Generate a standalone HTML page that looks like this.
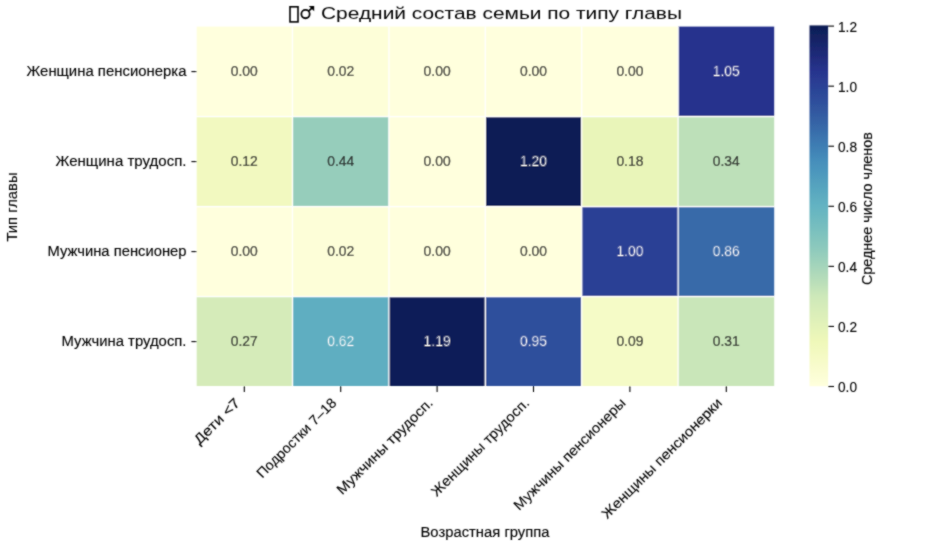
<!DOCTYPE html><html><head><meta charset="utf-8"><style>html,body{margin:0;padding:0;background:#fff;width:941px;height:552px;overflow:hidden}svg{display:block}text{font-family:"Liberation Sans",sans-serif;stroke-width:0.12px}</style></head><body>
<svg width="941" height="552" viewBox="0 0 941 552">
<defs><filter id="bl" x="0" y="0" width="941" height="552" filterUnits="userSpaceOnUse"><feConvolveMatrix order="3" kernelMatrix="1 2 1 2 12 2 1 2 1" edgeMode="none"/></filter><linearGradient id="cb" x1="0" y1="1" x2="0" y2="0"><stop offset="0.0000" stop-color="#ffffdd"/><stop offset="0.0312" stop-color="#fbfdd4"/><stop offset="0.0625" stop-color="#f7fbca"/><stop offset="0.0938" stop-color="#f3f9c1"/><stop offset="0.1250" stop-color="#eff8b9"/><stop offset="0.1562" stop-color="#e6f4b9"/><stop offset="0.1875" stop-color="#def0b9"/><stop offset="0.2188" stop-color="#d6ecb9"/><stop offset="0.2500" stop-color="#cde8b9"/><stop offset="0.2812" stop-color="#bde0b9"/><stop offset="0.3125" stop-color="#aed9ba"/><stop offset="0.3438" stop-color="#9fd2bb"/><stop offset="0.3750" stop-color="#90cbbc"/><stop offset="0.4062" stop-color="#84c5bd"/><stop offset="0.4375" stop-color="#78bfbf"/><stop offset="0.4688" stop-color="#6db9c0"/><stop offset="0.5000" stop-color="#63b3c2"/><stop offset="0.5312" stop-color="#5baac0"/><stop offset="0.5625" stop-color="#54a1be"/><stop offset="0.5938" stop-color="#4c97bd"/><stop offset="0.6250" stop-color="#458ebb"/><stop offset="0.6562" stop-color="#4081b5"/><stop offset="0.6875" stop-color="#3b75af"/><stop offset="0.7188" stop-color="#3768a8"/><stop offset="0.7500" stop-color="#335ca2"/><stop offset="0.7812" stop-color="#2f519d"/><stop offset="0.8125" stop-color="#2c4798"/><stop offset="0.8438" stop-color="#2a3d93"/><stop offset="0.8750" stop-color="#27338d"/><stop offset="0.9062" stop-color="#212d7e"/><stop offset="0.9375" stop-color="#1a2770"/><stop offset="0.9688" stop-color="#132261"/><stop offset="1.0000" stop-color="#0d1d55"/></linearGradient></defs><g filter="url(#bl)">
<rect x="196.70" y="26.60" width="95.80" height="90.00" fill="#ffffdd"/>
<rect x="292.50" y="26.60" width="96.40" height="90.00" fill="#fdfed8"/>
<rect x="388.90" y="26.60" width="96.40" height="90.00" fill="#ffffdd"/>
<rect x="485.30" y="26.60" width="96.40" height="90.00" fill="#ffffdd"/>
<rect x="581.70" y="26.60" width="96.40" height="90.00" fill="#ffffdd"/>
<rect x="678.10" y="26.60" width="96.10" height="90.00" fill="#27338d"/>
<rect x="196.70" y="116.60" width="95.80" height="90.00" fill="#f2f9c0"/>
<rect x="292.50" y="116.60" width="96.40" height="90.00" fill="#96cdbb"/>
<rect x="388.90" y="116.60" width="96.40" height="90.00" fill="#ffffdd"/>
<rect x="485.30" y="116.60" width="96.40" height="90.00" fill="#0d1d55"/>
<rect x="581.70" y="116.60" width="96.40" height="90.00" fill="#e9f5b9"/>
<rect x="678.10" y="116.60" width="96.10" height="90.00" fill="#bde0b9"/>
<rect x="196.70" y="206.60" width="95.80" height="90.00" fill="#ffffdd"/>
<rect x="292.50" y="206.60" width="96.40" height="90.00" fill="#fdfed8"/>
<rect x="388.90" y="206.60" width="96.40" height="90.00" fill="#ffffdd"/>
<rect x="485.30" y="206.60" width="96.40" height="90.00" fill="#ffffdd"/>
<rect x="581.70" y="206.60" width="96.40" height="90.00" fill="#2b4195"/>
<rect x="678.10" y="206.60" width="96.10" height="90.00" fill="#376aa9"/>
<rect x="196.70" y="296.60" width="95.80" height="89.40" fill="#d5ebb9"/>
<rect x="292.50" y="296.60" width="96.40" height="89.40" fill="#5faec1"/>
<rect x="388.90" y="296.60" width="96.40" height="89.40" fill="#0f1e58"/>
<rect x="485.30" y="296.60" width="96.40" height="89.40" fill="#2f4f9c"/>
<rect x="581.70" y="296.60" width="96.40" height="89.40" fill="#f5fbc7"/>
<rect x="678.10" y="296.60" width="96.10" height="89.40" fill="#c9e6b9"/>
<rect x="291.85" y="26.60" width="1.30" height="360.00" fill="#fff"/>
<rect x="388.25" y="26.60" width="1.30" height="360.00" fill="#fff"/>
<rect x="484.65" y="26.60" width="1.30" height="360.00" fill="#fff"/>
<rect x="581.05" y="26.60" width="1.30" height="360.00" fill="#fff"/>
<rect x="677.45" y="26.60" width="1.30" height="360.00" fill="#fff"/>
<rect x="196.10" y="115.95" width="578.40" height="1.30" fill="#fff"/>
<rect x="196.10" y="205.95" width="578.40" height="1.30" fill="#fff"/>
<rect x="196.10" y="295.95" width="578.40" height="1.30" fill="#fff"/>
<text x="244.30" y="75.90" font-size="14.00" fill="#262626" stroke="#262626" style="stroke-width:0.22px" text-anchor="middle" textLength="27.00" lengthAdjust="spacingAndGlyphs">0.00</text>
<text x="340.70" y="75.90" font-size="14.00" fill="#262626" stroke="#262626" style="stroke-width:0.22px" text-anchor="middle" textLength="27.00" lengthAdjust="spacingAndGlyphs">0.02</text>
<text x="437.10" y="75.90" font-size="14.00" fill="#262626" stroke="#262626" style="stroke-width:0.22px" text-anchor="middle" textLength="27.00" lengthAdjust="spacingAndGlyphs">0.00</text>
<text x="533.50" y="75.90" font-size="14.00" fill="#262626" stroke="#262626" style="stroke-width:0.22px" text-anchor="middle" textLength="27.00" lengthAdjust="spacingAndGlyphs">0.00</text>
<text x="629.90" y="75.90" font-size="14.00" fill="#262626" stroke="#262626" style="stroke-width:0.22px" text-anchor="middle" textLength="27.00" lengthAdjust="spacingAndGlyphs">0.00</text>
<text x="726.30" y="75.90" font-size="14.00" fill="#ffffff" stroke="#27338d" style="stroke-width:0.25px" text-anchor="middle" textLength="27.00" lengthAdjust="spacingAndGlyphs">1.05</text>
<text x="244.30" y="165.90" font-size="14.00" fill="#262626" stroke="#262626" style="stroke-width:0.22px" text-anchor="middle" textLength="27.00" lengthAdjust="spacingAndGlyphs">0.12</text>
<text x="340.70" y="165.90" font-size="14.00" fill="#262626" stroke="#262626" style="stroke-width:0.22px" text-anchor="middle" textLength="27.00" lengthAdjust="spacingAndGlyphs">0.44</text>
<text x="437.10" y="165.90" font-size="14.00" fill="#262626" stroke="#262626" style="stroke-width:0.22px" text-anchor="middle" textLength="27.00" lengthAdjust="spacingAndGlyphs">0.00</text>
<text x="533.50" y="165.90" font-size="14.00" fill="#ffffff" stroke="#0d1d55" style="stroke-width:0.25px" text-anchor="middle" textLength="27.00" lengthAdjust="spacingAndGlyphs">1.20</text>
<text x="629.90" y="165.90" font-size="14.00" fill="#262626" stroke="#262626" style="stroke-width:0.22px" text-anchor="middle" textLength="27.00" lengthAdjust="spacingAndGlyphs">0.18</text>
<text x="726.30" y="165.90" font-size="14.00" fill="#262626" stroke="#262626" style="stroke-width:0.22px" text-anchor="middle" textLength="27.00" lengthAdjust="spacingAndGlyphs">0.34</text>
<text x="244.30" y="255.90" font-size="14.00" fill="#262626" stroke="#262626" style="stroke-width:0.22px" text-anchor="middle" textLength="27.00" lengthAdjust="spacingAndGlyphs">0.00</text>
<text x="340.70" y="255.90" font-size="14.00" fill="#262626" stroke="#262626" style="stroke-width:0.22px" text-anchor="middle" textLength="27.00" lengthAdjust="spacingAndGlyphs">0.02</text>
<text x="437.10" y="255.90" font-size="14.00" fill="#262626" stroke="#262626" style="stroke-width:0.22px" text-anchor="middle" textLength="27.00" lengthAdjust="spacingAndGlyphs">0.00</text>
<text x="533.50" y="255.90" font-size="14.00" fill="#262626" stroke="#262626" style="stroke-width:0.22px" text-anchor="middle" textLength="27.00" lengthAdjust="spacingAndGlyphs">0.00</text>
<text x="629.90" y="255.90" font-size="14.00" fill="#ffffff" stroke="#2b4195" style="stroke-width:0.25px" text-anchor="middle" textLength="27.00" lengthAdjust="spacingAndGlyphs">1.00</text>
<text x="726.30" y="255.90" font-size="14.00" fill="#ffffff" stroke="#376aa9" style="stroke-width:0.25px" text-anchor="middle" textLength="27.00" lengthAdjust="spacingAndGlyphs">0.86</text>
<text x="244.30" y="345.90" font-size="14.00" fill="#262626" stroke="#262626" style="stroke-width:0.22px" text-anchor="middle" textLength="27.00" lengthAdjust="spacingAndGlyphs">0.27</text>
<text x="340.70" y="345.90" font-size="14.00" fill="#ffffff" stroke="#5faec1" style="stroke-width:0.25px" text-anchor="middle" textLength="27.00" lengthAdjust="spacingAndGlyphs">0.62</text>
<text x="437.10" y="345.90" font-size="14.00" fill="#ffffff" stroke="#0f1e58" style="stroke-width:0.25px" text-anchor="middle" textLength="27.00" lengthAdjust="spacingAndGlyphs">1.19</text>
<text x="533.50" y="345.90" font-size="14.00" fill="#ffffff" stroke="#2f4f9c" style="stroke-width:0.25px" text-anchor="middle" textLength="27.00" lengthAdjust="spacingAndGlyphs">0.95</text>
<text x="629.90" y="345.90" font-size="14.00" fill="#262626" stroke="#262626" style="stroke-width:0.22px" text-anchor="middle" textLength="27.00" lengthAdjust="spacingAndGlyphs">0.09</text>
<text x="726.30" y="345.90" font-size="14.00" fill="#262626" stroke="#262626" style="stroke-width:0.22px" text-anchor="middle" textLength="27.00" lengthAdjust="spacingAndGlyphs">0.31</text>
<rect x="191.40" y="71.05" width="5.30" height="1.1" fill="#000000"/>
<rect x="191.40" y="161.05" width="5.30" height="1.1" fill="#000000"/>
<rect x="191.40" y="251.05" width="5.30" height="1.1" fill="#000000"/>
<rect x="191.40" y="341.05" width="5.30" height="1.1" fill="#000000"/>
<text x="186.50" y="76.10" font-size="14.00" fill="#000000" stroke="#000000" text-anchor="end" textLength="160.00" lengthAdjust="spacingAndGlyphs">Женщина пенсионерка</text>
<text x="186.50" y="166.10" font-size="14.00" fill="#000000" stroke="#000000" text-anchor="end" textLength="131.00" lengthAdjust="spacingAndGlyphs">Женщина трудосп.</text>
<text x="186.50" y="256.10" font-size="14.00" fill="#000000" stroke="#000000" text-anchor="end" textLength="139.00" lengthAdjust="spacingAndGlyphs">Мужчина пенсионер</text>
<text x="186.50" y="346.10" font-size="14.00" fill="#000000" stroke="#000000" text-anchor="end" textLength="125.00" lengthAdjust="spacingAndGlyphs">Мужчина трудосп.</text>
<rect x="243.75" y="386.00" width="1.1" height="6.00" fill="#000000"/>
<text transform="translate(240.90 403.80) rotate(-45)" x="0" y="0" font-size="14.00" fill="#000000" stroke="#000000" text-anchor="end" textLength="58.50" lengthAdjust="spacingAndGlyphs">Дети &lt;7</text>
<rect x="340.15" y="386.00" width="1.1" height="6.00" fill="#000000"/>
<text transform="translate(337.30 403.80) rotate(-45)" x="0" y="0" font-size="14.00" fill="#000000" stroke="#000000" text-anchor="end" textLength="106.00" lengthAdjust="spacingAndGlyphs">Подростки 7–18</text>
<rect x="436.55" y="386.00" width="1.1" height="6.00" fill="#000000"/>
<text transform="translate(433.70 403.80) rotate(-45)" x="0" y="0" font-size="14.00" fill="#000000" stroke="#000000" text-anchor="end" textLength="129.20" lengthAdjust="spacingAndGlyphs">Мужчины трудосп.</text>
<rect x="532.95" y="386.00" width="1.1" height="6.00" fill="#000000"/>
<text transform="translate(530.10 403.80) rotate(-45)" x="0" y="0" font-size="14.00" fill="#000000" stroke="#000000" text-anchor="end" textLength="132.00" lengthAdjust="spacingAndGlyphs">Женщины трудосп.</text>
<rect x="629.35" y="386.00" width="1.1" height="6.00" fill="#000000"/>
<text transform="translate(626.50 403.80) rotate(-45)" x="0" y="0" font-size="14.00" fill="#000000" stroke="#000000" text-anchor="end" textLength="151.70" lengthAdjust="spacingAndGlyphs">Мужчины пенсионеры</text>
<rect x="725.75" y="386.00" width="1.1" height="6.00" fill="#000000"/>
<text transform="translate(722.90 403.80) rotate(-45)" x="0" y="0" font-size="14.00" fill="#000000" stroke="#000000" text-anchor="end" textLength="163.50" lengthAdjust="spacingAndGlyphs">Женщины пенсионерки</text>
<text x="485.00" y="536.50" font-size="14.00" fill="#000000" stroke="#000000" text-anchor="middle" textLength="129.00" lengthAdjust="spacingAndGlyphs">Возрастная группа</text>
<text transform="translate(16.80 207.00) rotate(-90)" font-size="14.00" fill="#000000" stroke="#000000" text-anchor="middle" textLength="69.00" lengthAdjust="spacingAndGlyphs">Тип главы</text>
<rect x="809.50" y="25.40" width="18.60" height="360.80" fill="url(#cb)"/>
<rect x="828.10" y="385.95" width="5.90" height="1.1" fill="#000000"/>
<text x="838.00" y="392.00" font-size="14.00" fill="#000000" stroke="#000000" textLength="19.00" lengthAdjust="spacingAndGlyphs">0.0</text>
<rect x="828.10" y="325.88" width="5.90" height="1.1" fill="#000000"/>
<text x="838.00" y="331.93" font-size="14.00" fill="#000000" stroke="#000000" textLength="19.00" lengthAdjust="spacingAndGlyphs">0.2</text>
<rect x="828.10" y="265.82" width="5.90" height="1.1" fill="#000000"/>
<text x="838.00" y="271.87" font-size="14.00" fill="#000000" stroke="#000000" textLength="19.00" lengthAdjust="spacingAndGlyphs">0.4</text>
<rect x="828.10" y="205.75" width="5.90" height="1.1" fill="#000000"/>
<text x="838.00" y="211.80" font-size="14.00" fill="#000000" stroke="#000000" textLength="19.00" lengthAdjust="spacingAndGlyphs">0.6</text>
<rect x="828.10" y="145.68" width="5.90" height="1.1" fill="#000000"/>
<text x="838.00" y="151.73" font-size="14.00" fill="#000000" stroke="#000000" textLength="19.00" lengthAdjust="spacingAndGlyphs">0.8</text>
<rect x="828.10" y="85.62" width="5.90" height="1.1" fill="#000000"/>
<text x="838.00" y="91.67" font-size="14.00" fill="#000000" stroke="#000000" textLength="19.00" lengthAdjust="spacingAndGlyphs">1.0</text>
<rect x="828.10" y="25.55" width="5.90" height="1.1" fill="#000000"/>
<text x="838.00" y="31.60" font-size="14.00" fill="#000000" stroke="#000000" textLength="19.00" lengthAdjust="spacingAndGlyphs">1.2</text>
<text transform="translate(872.30 208.60) rotate(-90)" font-size="14.00" fill="#000000" stroke="#000000" text-anchor="middle" textLength="153.00" lengthAdjust="spacingAndGlyphs">Среднее число членов</text>
<rect x="290.00" y="6.80" width="8.00" height="15.10" fill="none" stroke="#000000" stroke-width="1.6"/>
<g fill="none" stroke="#000000" stroke-width="1.8"><circle cx="305.50" cy="14.10" r="4.15"/><path d="M308.49 11.11L312.20 7.90"/></g>
<path d="M308.8 5.9L314.2 5.9L314.2 11.3Z" fill="#000000"/>
<text x="321.00" y="18.70" font-size="17.40" fill="#000000" stroke="#000000" style="stroke-width:0px" textLength="361.00" lengthAdjust="spacingAndGlyphs">Средний состав семьи по типу главы</text>
</g></svg></body></html>
